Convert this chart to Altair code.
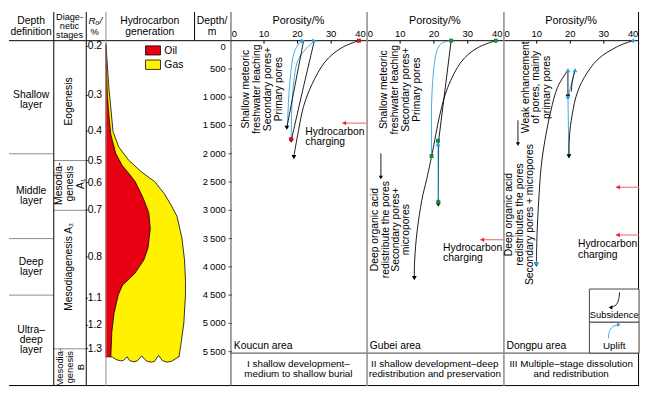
import altair as alt
import pandas as pd

FONT = "Liberation Sans"
H = 380
DMIN, DMAX = -508, 6108
PDOM = [0, 40.5]
Y0 = (0 - DMIN) / (DMAX - DMIN) * H

BLUE = "#2ba2e0"; GREEN = "#14893c"; RED = "#dd0a1e"; PINK = "#f07878"; PINKHEAD = "#e8202a"
OIL = "#e60012"; GAS = "#fff200"; GRAY = "#8c8c8c"; DARK = "#444444"

# ---------------- data ----------------
layer_labels = ["Shallow\nlayer", "Middle\nlayer", "Deep\nlayer", "Ultra–\ndeep\nlayer"]
layer_mid = [1050, 2750, 4000, 5290]
layer_bounds = [2000, 3500, 4500]

stage_labels = ["Eogenesis", "Mesodia-\ngenesis\nA₁", "Mesodiagenesis A₂"]
stage_mid = [1075, 2530, 4000]
stage_x = [16.5, 17.0, 15.7]
stage_b_label = "Mesodia-\ngenesis\nB"
stage_b_mid = 5775
stage_bounds = [2120, 3000, 5450]

ro_labels = ["0.2", "0.3", "0.4", "0.5", "0.6", "0.7", "0.8", "1.1", "1.2", "1.3"]
ro_depth = [100, 970, 1600, 2120, 2510, 2995, 3825, 4555, 5035, 5445]

# hydrocarbon generation: relative intensity (0-90) against depth
oil_d = [75, 492, 992, 1408, 1658, 1992, 2208, 2358, 2492, 2775, 3042, 3325, 3658, 3875, 4108, 4325, 4492, 4825, 5158, 5592]
oil_x = [0.5, 1, 2, 4, 5.5, 10.5, 17.2, 24.5, 30.5, 38.5, 44.5, 46, 43.8, 39.5, 30.5, 17.5, 13.2, 8.8, 6.5, 5.5]
gas_d = [42, 325, 825, 1608, 1875, 2108, 2325, 2492, 2708, 2942, 3108, 3492, 3875, 4242, 4492, 4992, 5408, 5592]
gas_x = [0.5, 1.5, 3.5, 7.8, 13.5, 23.5, 37.2, 50.5, 60.5, 68.5, 73.5, 78.5, 81.2, 82.2, 82.2, 80.5, 77.2, 75.5]
wave_x = [75.5, 68, 63.2, 58.5, 54.5, 50.5, 47.2, 42, 37.2, 32.5, 28.8, 25, 22.2, 18.5, 15.5, 11, 7.2, 5.5, 0]
wave_d = [5585, 5670, 5685, 5660, 5565, 5670, 5685, 5665, 5575, 5665, 5678, 5660, 5590, 5655, 5662, 5640, 5595, 5592, 5592]

depth_ticks = [0, 500, 1000, 1500, 2000, 2500, 3000, 3500, 4000, 4500, 5000, 5500]
depth_labels = ["0", "500", "1\u2009000", "1\u2009500", "2\u2009000", "2\u2009500", "3\u2009000", "3\u2009500",
                "4\u2009000", "4\u2009500", "5\u2009000", "5\u2009500"]
por_ticks = [0, 10, 20, 30, 40]
por_labels = ["0", "10", "20", "30", "40"]
por_minor = [10, 20, 30]

# Koucun
k_main_p = [38.3, 33.0, 28.1, 24.3, 21.8, 20.4, 19.2, 18.9]
k_main_d = [0, 130, 380, 770, 1160, 1550, 1940, 2060]
k_b_p = [21.8, 19.3, 16.8]; k_b_d = [0, 770, 1540]
k_c_p = [25.0, 21.5, 18.1]; k_c_d = [0, 885, 1770]
k_up1_p = [16.8, 17.0, 17.5, 18.5, 20.0, 21.6]; k_up1_d = [1540, 1440, 880, 325, 80, 5]
k_up2_p = [18.1, 18.3, 18.9, 19.9, 22.3, 25.0]; k_up2_d = [1770, 1158, 713, 380, 158, 5]

# Gubei
g_main_p = [38.3, 32.8, 28.0, 24.1, 21.7, 19.5, 17.9, 16.4, 15.0, 14.3, 14.2]
g_main_d = [0, 130, 380, 825, 1325, 1990, 2440, 2825, 3380, 3880, 4200]
g_down_p = [25.1, 21.4, 21.3]; g_down_d = [0, 1770, 2850]
g_up1_p = [19.3, 19.3, 19.8, 20.7, 22.2, 25.1]; g_up1_d = [2040, 1160, 600, 215, 50, 0]
g_up2_p = [21.3, 21.2]; g_up2_d = [2850, 1830]
g_dot_p = [38.3, 25.1, 19.3, 21.2, 21.3]; g_dot_d = [0, 0, 2040, 1770, 2850]

# Dongpu
d_main_p = [38.8, 34.1, 28.3, 24.1, 21.7, 20.3, 19.7, 19.6]
d_main_d = [0, 103, 325, 658, 992, 1408, 1742, 2047]
d_long_p = [19.3, 16.2, 14.2, 12.5, 11.3, 10.6, 10.1, 9.9]
d_long_d = [520, 825, 1242, 1742, 2242, 2825, 3408, 3937]
d_short_p = [19.3, 19.3]; d_short_d = [520, 990]
d_up_p = [19.3, 21.4]; d_up_d = [1000, 520]
d_blue2_p = [19.3, 19.6]; d_blue2_d = [1000, 2040]
d_curl_p = [21.4, 20.6, 20.3]; d_curl_d = [520, 720, 900]
d_dot_p = [38.8, 19.3, 9.9]; d_dot_d = [0, 1003, 3937]

# ---------------- helpers ----------------
ONE = pd.DataFrame({"k": [0]})


def xsc(dom):
    return alt.Scale(domain=dom, nice=False, zero=False)


def ysc():
    return alt.Scale(domain=[DMIN, DMAX], reverse=True, nice=False, zero=False)


def X(dom):
    return alt.X("x:Q", scale=xsc(dom), axis=None)


def Yd():
    return alt.Y("d:Q", scale=ysc(), axis=None)


def df_xy(xv, dv):
    return pd.DataFrame({"x": list(xv), "d": list(dv), "i": list(range(len(xv)))})


def line(dom, xv, dv, color="black", width=0.9, interp="linear"):
    return alt.Chart(df_xy(xv, dv)).mark_line(color=color, strokeWidth=width, interpolate=interp).encode(
        x=X(dom), y=Yd(), order="i:Q")


def poly(dom, xv, dv, fill):
    return alt.Chart(df_xy(xv, dv)).mark_line(filled=True, fill=fill, strokeWidth=0, strokeOpacity=0).encode(
        x=X(dom), y=Yd(), order="i:Q")


def pts(dom, xv, dv, shape="circle", color="black", size=22, angle=0):
    return alt.Chart(df_xy(xv, dv)).mark_point(shape=shape, filled=True, color=color, size=size,
                                                angle=angle, opacity=1, strokeWidth=0).encode(x=X(dom), y=Yd())


def texts(dom, xv, dv, labels, size=10.5, align="center", angle=0, lh=11, style="normal", color="black",
          baseline="middle", dy=0):
    """Text layer(s); multi-line blocks are centred on their anchor."""
    groups = {}
    for x, d, s in zip(xv, dv, labels):
        n = s.count("\n") + 1
        groups.setdefault(n, []).append((x, d, s))
    layers = []
    for n, rows in groups.items():
        off = dy - (n - 1) * lh / 2.0
        df = pd.DataFrame({"x": [r[0] for r in rows], "d": [r[1] for r in rows], "t": [r[2] for r in rows]})
        layers.append(alt.Chart(df).mark_text(font=FONT, fontSize=size, align=align, baseline=baseline,
                                              angle=angle, lineBreak="\n", lineHeight=lh, color=color,
                                              fontStyle=style, dy=off).encode(x=X(dom), y=Yd(), text="t:N"))
    return layers


def vrule(px, y0=0.0, y1=float(H), color="black", width=1.0):
    return alt.Chart(ONE).mark_rule(color=color, strokeWidth=width).encode(
        x=alt.value(px), y=alt.value(y0), y2=alt.value(y1))


def hrule(dv, x0, x1, color="black", width=1.0):
    return alt.Chart(pd.DataFrame({"d": list(dv)})).mark_rule(color=color, strokeWidth=width).encode(
        y=Yd(), x=alt.value(x0), x2=alt.value(x1))


def hpix(py, x0, x1, color="black", width=1.0):
    return alt.Chart(ONE).mark_rule(color=color, strokeWidth=width).encode(
        y=alt.value(py), x=alt.value(x0), x2=alt.value(x1))


def red_arrow(p0, d):
    return [line(PDOM, [p0, PDOM[1]], [d, d], color=PINK, width=1.2),
            pts(PDOM, [p0 + 0.6], [d], shape="triangle-left", color=PINKHEAD, size=20)]


def panel(items, w):
    flat = []
    for it in items:
        if isinstance(it, list):
            flat.extend(it)
        else:
            flat.append(it)
    return alt.layer(*flat).properties(width=w, height=H)


widths = [45, 33, 20, 90, 37, 138, 139, 138]

# ---------------- left table columns ----------------
dom1 = [0, 46]
p1 = panel([
    texts(dom1, [23], [-250], ["Depth\ndefinition"], lh=10.5),
    texts(dom1, [23] * 4, layer_mid, layer_labels, lh=10),
    hrule(layer_bounds, 0, widths[0], color=GRAY),
    hrule([0], 0, widths[0]),
    hpix(H - 0.5, 0, widths[0]),
], widths[0])

dom2 = [0, 33]
p2 = panel([
    texts(dom2, [16.5], [-257], ["Diage-\nnetic\nstages"], size=9.3, lh=9.4),
    texts(dom2, stage_x, stage_mid, stage_labels, angle=270, lh=11),
    texts(dom2, [17.5], [stage_b_mid], [stage_b_label], size=9.5, angle=270, lh=10.5),
    hrule(stage_bounds, 0, widths[1], color=GRAY),
    hrule([0], 0, widths[1]),
    hpix(H - 0.5, 0, widths[1]),
    vrule(0.5),
], widths[1])

dom3 = [0, 20.5]
p3 = panel([
    texts(dom3, [10.0], [-352], ["Rₒ/"], style="italic", size=10),
    texts(dom3, [9.3], [-150], ["%"], size=9.5),
    texts(dom3, [2] * len(ro_labels), ro_depth, ro_labels, align="left", size=10.5),
    alt.Chart(pd.DataFrame({"d": ro_depth})).mark_rule(color=DARK, strokeWidth=1).encode(
        y=Yd(), x=alt.value(0), x2=alt.value(2.5)),
    hrule([0], 0, widths[2]),
    hpix(H - 0.5, 0, widths[2]),
    vrule(0.5),
], widths[2])

dom4 = [0, 91]
gas_poly_x = [0] + gas_x + wave_x
gas_poly_d = [42] + gas_d + wave_d
oil_poly_x = [0] + oil_x + [0]
oil_poly_d = [75] + oil_d + [5592]
legend_rects = pd.DataFrame({"x": [41.2, 41.2], "x2": [56.5, 56.5], "d": [92, 342], "d2": [253, 508],
                             "c": ["Oil", "Gas"]})
p4 = panel([
    texts(dom4, [45.5], [-250], ["Hydrocarbon\ngeneration"], lh=10.5),
    poly(dom4, gas_poly_x, gas_poly_d, GAS),
    poly(dom4, oil_poly_x, oil_poly_d, OIL),
    line(dom4, gas_x + wave_x, gas_d + wave_d, width=0.8),
    line(dom4, oil_x, oil_d, width=0.8),
    alt.Chart(legend_rects).mark_rect(stroke="black", strokeWidth=0.8).encode(
        x=X(dom4), x2="x2:Q", y=Yd(), y2="d2:Q",
        color=alt.Color("c:N", scale=alt.Scale(domain=["Oil", "Gas"], range=[OIL, GAS]), legend=None)),
    texts(dom4, [60.5, 60.5], [175, 425], ["Oil", "Gas"], align="left", size=10.5),
    hrule([0], 0, widths[3]),
    hpix(H - 0.5, 0, widths[3]),
    vrule(0.5, color=GRAY),
], widths[3])

dom5 = [0, 37.5]
w5 = widths[4]
p5 = panel([
    texts(dom5, [18.5], [-250], ["Depth/\nm"], lh=10.5),
    texts(dom5, [32.5], [0], [depth_labels[0]], align="right", size=9.6, baseline="top", dy=1),
    texts(dom5, [32.5] * (len(depth_ticks) - 1), depth_ticks[1:], depth_labels[1:], align="right", size=9.6),
    alt.Chart(pd.DataFrame({"d": depth_ticks[1:]})).mark_rule(color=DARK, strokeWidth=1).encode(
        y=Yd(), x=alt.value(w5 - 2), x2=alt.value(w5)),
    hrule([0], 0, w5),
    hpix(H - 0.5, 0, w5),
    vrule(0.5, 0, Y0),
], w5)


# ---------------- porosity panels ----------------
def por_common(w, area_name, footer):
    ticks = alt.Chart(pd.DataFrame({"x": por_minor})).mark_rule(color="black", strokeWidth=1).encode(
        x=X(PDOM), y=alt.value(Y0), y2=alt.value(Y0 + 3))
    return [
        ticks,
        hrule([0], 0, w),
        texts(PDOM, [0.4], [-125], [por_labels[0]], align="left", size=9.6),
        texts(PDOM, por_ticks[1:4], [-125] * 3, por_labels[1:4], size=9.6),
        texts(PDOM, [40.3], [-125], [por_labels[4]], align="right", size=9.6),
        texts(PDOM, [20.25], [-342], ["Porosity/%"], size=11),
        texts(PDOM, [1.0], [5392], [area_name], align="left", size=10.5),
        hrule([5525], 0, w, color=DARK),
        texts(PDOM, [20.25], [5808], [footer], size=10, lh=10.5),
        hpix(H - 0.5, 0, w),
    ]


w6 = widths[5]
p6 = panel(por_common(w6, "Koucun area", "I shallow development–\nmedium to shallow burial") + [
    vrule(0.5, color=DARK),
    alt.Chart(pd.DataFrame({"d": depth_ticks[1:]})).mark_rule(color=DARK, strokeWidth=1).encode(
        y=Yd(), x=alt.value(0), x2=alt.value(1.5)),
    line(PDOM, k_up1_p, k_up1_d, color=BLUE, interp="cardinal"),
    line(PDOM, k_up2_p, k_up2_d, color=BLUE, interp="cardinal"),
    line(PDOM, k_main_p, k_main_d, interp="cardinal"),
    line(PDOM, k_b_p, k_b_d, interp="cardinal"),
    line(PDOM, k_c_p, k_c_d, interp="cardinal"),
    pts(PDOM, [18.9, 16.8, 18.1], [2060, 1540, 1770], shape="triangle-down", size=24),
    pts(PDOM, [21.6, 25.0], [5, 5], shape="triangle-right", color=BLUE, size=24),
    pts(PDOM, [38.3, 18.1], [0, 1740], shape="square", color=RED, size=16),
    texts(PDOM, [9.6], [858], ["Shallow meteoric\nfreshwater leaching\nSecondary pores+\nPrimary pores"],
          angle=270, lh=11.2),
    texts(PDOM, [22.3], [1705], ["Hydrocarbon\ncharging"], align="left", lh=10.5),
] + red_arrow(33.3, 1458), w6)

w7 = widths[6]
p7 = panel(por_common(w7, "Gubei area", "II shallow development–deep\nredistribution and preservation") + [
    vrule(0.75, color=GRAY, width=1.5),
    line(PDOM, g_up1_p, g_up1_d, color=BLUE, interp="cardinal"),
    line(PDOM, g_main_p, g_main_d, interp="cardinal"),
    line(PDOM, g_down_p, g_down_d),
    line(PDOM, g_up2_p, g_up2_d, color=BLUE),
    pts(PDOM, [14.2, 21.3], [4200, 2900], shape="triangle-down", size=24),
    pts(PDOM, [21.2], [1830], shape="triangle-up", color=BLUE, size=24),
    pts(PDOM, g_dot_p, g_dot_d, shape="square", color=GREEN, size=16),
    line(PDOM, [4.3, 4.3], [1992, 2400]),
    pts(PDOM, [4.3], [2420], shape="triangle-down", size=18),
    texts(PDOM, [10.0], [867], ["Shallow meteoric\nfreshwater leaching\nSecondary pores+\nPrimary pores"],
          angle=270, lh=11.2),
    texts(PDOM, [7.3], [3342], ["Deep organic acid\nredistribute the pores\nSecondary pores+\nmicropores"],
          angle=270, lh=10.5),
    texts(PDOM, [22.7], [3758], ["Hydrocarbon\ncharging"], align="left", lh=10.5),
] + red_arrow(33.7, 3520), w7)

w8 = widths[7]
legend_box = pd.DataFrame({"x": [25.7, 25.7], "x2": [40.5, 40.5], "d": [4392, 4980], "d2": [4980, 5525]})
p8 = panel(por_common(w8, "Dongpu area", "III Multiple–stage dissolution\nand redistribution") + [
    vrule(0.75, color=GRAY, width=1.5),
    vrule(w8 - 0.5),
    line(PDOM, d_blue2_p, d_blue2_d, color=BLUE),
    line(PDOM, d_up_p, d_up_d, color=BLUE),
    line(PDOM, d_main_p, d_main_d, interp="cardinal"),
    line(PDOM, d_long_p, d_long_d, interp="cardinal"),
    line(PDOM, d_short_p, d_short_d),
    line(PDOM, d_curl_p, d_curl_d, interp="cardinal"),
    pts(PDOM, [19.6, 19.3, 9.9], [2047, 990, 3960], shape="triangle-down", size=24),
    pts(PDOM, [19.3, 21.4], [520, 520], shape="triangle-up", color=BLUE, size=24),
    pts(PDOM, d_dot_p, d_dot_d, shape="diamond", color=BLUE, size=20),
    line(PDOM, [4.4, 4.4], [1408, 1800]),
    pts(PDOM, [4.4], [1830], shape="triangle-down", size=18),
    texts(PDOM, [9.9], [825], ["Weak enhancement\nof pores, mainly\nprimary pores"], angle=270, lh=10.5),
    texts(PDOM, [4.9], [3075], ["Deep organic acid\nredistributes the pores\nSecondary pores + micropores"],
          angle=270, lh=10.5),
    texts(PDOM, [22.3], [3692], ["Hydrocarbon\ncharging"], align="left", lh=10.5),
    alt.Chart(legend_box).mark_rect(fill="white", stroke=DARK, strokeWidth=1).encode(
        x=X(PDOM), x2="x2:Q", y=Yd(), y2="d2:Q"),
    line(PDOM, [34.7, 34.4, 33.7, 32.3], [4447, 4580, 4670, 4713], interp="cardinal"),
    pts(PDOM, [32.0], [4718], shape="triangle-left", size=18),
    line(PDOM, [31.4, 31.6, 32.6, 34.2], [5270, 5150, 5060, 5025], color=BLUE, interp="cardinal"),
    pts(PDOM, [34.5], [5022], shape="triangle-right", color=BLUE, size=18),
    texts(PDOM, [33.1], [4853], ["Subsidence"], size=9.5),
    texts(PDOM, [33.1], [5397], ["Uplift"], size=10),
] + red_arrow(33.6, 2592) + red_arrow(33.6, 3437), w8)

chart = alt.hconcat(p1, p2, p3, p4, p5, p6, p7, p8, spacing=0, bounds="flush").properties(
    padding=0, background="white"
).configure_view(stroke=None)

chart.save("out.html", embed_options={"renderer": "svg", "actions": False})
